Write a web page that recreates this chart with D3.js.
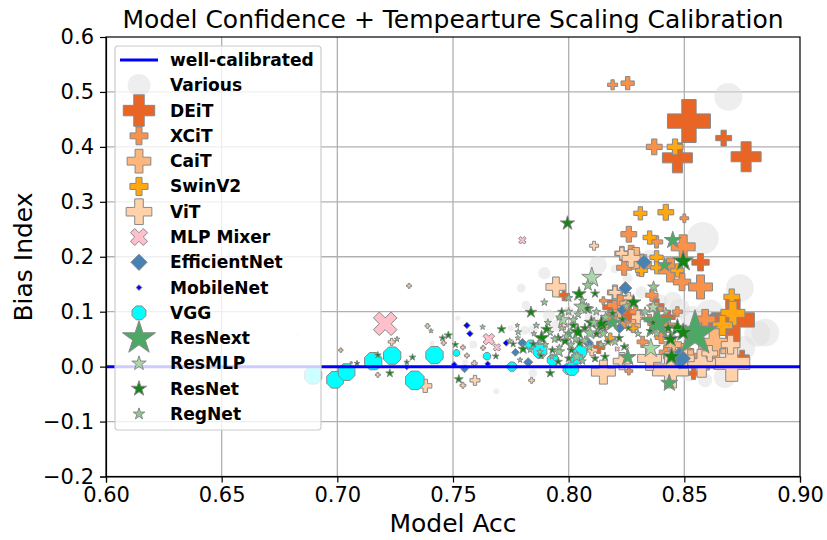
<!DOCTYPE html>
<meta charset="utf-8">
<style type="text/css">
	body { margin: 0; background: #fff; }
	text { font-family: "DejaVu Sans", sans-serif; fill: #000; }
	.grid line { stroke: #b0b0b0; stroke-width: 1.3; }
	.axis path, .axis line { stroke: #000; stroke-width: 1.2; }
	.axis text { font-size: 21px; }
	.legend text { font-size: 17.1px; font-weight: bold; }
</style>
<svg width="827" height="540"></svg>
<script src="https://d3js.org/d3.v7.min.js"></script>
<script type="text/javascript">
	// each point: [accuracy, bias index, model size]
	var various = [[.869,.491,31],[.858,.234,41],[.8127,.185,13],[.82,.178,3],[.8255,.161,4],[.8315,.135,6],[.845,.12,13],[.874,.143,31],[.885,.062,31],[.8815,.06,27],[.8755,.034,23],[.8675,-.019,19],[.859,-.025,8],[.861,.097,31],[.848,.106,16],[.7895,.17,6],[.7795,.143,3],[.7815,.112,3],[.7915,.093,6],[.752,.088,1],[.7687,-.045,1.4],[.7845,-.012,3],[.7588,.04,2.5],[.7552,.008,1.4],[.741,.043,1],[.683,.06,.6],[.676,-.002,.6],[.7845,.066,4],[.781,.066,3],[.775,.07,1.4],[.853,.09,20],[.857,.07,18],[.865,.02,25],[.852,-.01,14],[.84,.12,6],[.835,.2,8],[.828,.21,6],[.842,.02,10],[.8,.1,5],[.795,.075,6],[.81,.09,8],[.83,.09,5]];
	var deit = [[.852,.447,74],[.867,.416,10],[.8767,.382,36],[.847,.38,36],[.857,.19,12],[.871,.085,74],[.798,.13,5],[.818,.108,9],[.838,.11,9],[.875,.017,8],[.854,-.012,6],[.813,.035,6],[.863,.07,30],[.826,.095,9],[.843,.09,8]];
	var xcit = [[.819,.513,4],[.8255,.516,7],[.837,.4,10],[.85,.27,3],[.826,.241,10],[.838,.227,6],[.8495,.218,23],[.844,.176,23],[.831,.185,19],[.849,.154,12],[.857,.145,23],[.859,.086,16],[.82,.112,9],[.838,.105,7],[.853,.02,8],[.842,.026,7],[.84,.053,6],[.826,-.008,2.5],[.847,.1,4],[.815,.12,2.5],[.827,.205,12],[.824,.18,9],[.836,.13,6],[.85,.03,7],[.86,.005,6],[.822,.125,9],[.818,.09,7],[.829,.1,6],[.835,.085,5],[.843,.075,8],[.832,.045,5],[.824,.08,5]];
	var cait = [[.82,.135,9],[.829,.197,19],[.823,.206,8],[.863,.042,40],[.869,.028,9],[.828,.075,8],[.845,.04,12],[.822,.1,6],[.855,.065,10],[.815,.075,5],[.825,.115,7],[.85,.025,14]];
	var swin = [[.831,.279,7],[.842,.281,10],[.846,.4,10],[.835,.235,7],[.838,.199,7],[.8315,.175,6],[.838,.18,6],[.8705,.127,10],[.871,.097,23],[.8665,.075,16],[.818,.052,4],[.828,.07,3.2],[.847,.175,7]];
	var vit = [[.7945,.145,16],[.738,-.035,7],[.7595,-.025,4],[.815,-.01,23],[.811,.22,3.2],[.823,.206,6],[.827,.197,13],[.844,-.006,52],[.8705,.006,52],[.8575,.006,31],[.835,.015,23],[.823,.01,12],[.82,.135,6],[.731,.147,1],[.739,.074,1],[.7235,.045,2],[.7015,.03,.8],[.7175,-.015,1],[.7592,.006,1.4],[.7543,-.034,1.4],[.784,-.025,1.4],[.763,.034,1],[.756,.02,1],[.7543,.035,1],[.746,.043,1],[.81,.03,5],[.798,.075,3],[.83,.09,7],[.826,.125,5],[.87,.04,14],[.85,.015,16],[.861,.024,10]];
	var mixer = [[.7207,.078,25],[.78,.23,2.5],[.7655,.05,6],[.769,.035,2.5],[.8125,.06,2],[.821,.032,1],[.825,.037,1]];
	var efficient = [[.8325,.19,5],[.8245,.143,4],[.822,.07,2.5],[.823,.103,2.5],[.848,.015,11],[.8085,.043,2.5],[.755,-.004,1.4],[.7825,.008,2],[.777,.026,1.4],[.78,.043,2],[.805,.018,2.5]];
	var mobile = [[.756,.075,1],[.7573,.06,1],[.773,.043,1],[.7505,.004,.8],[.765,.005,.8],[.73,-.001,.6]];
	var vgg = [[.6895,-.016,14],[.699,-.024,13],[.704,-.01,13],[.7155,.01,14],[.7237,.02,14],[.7335,-.025,16],[.742,.021,14],[.7515,.025,2],[.7647,.019,2.6],[.7755,0,4],[.7835,.04,4],[.7876,.028,9],[.7932,.012,6],[.80,-.004,6],[.8015,-.004,8],[.805,.027,8],[.8035,.015,6]];
	var resnext = [[.8546,.06,92],[.8382,.08,49],[.8435,-.03,13],[.845,.23,13],[.8415,.185,9],[.8255,.017,13],[.819,.08,13],[.8085,.105,5],[.8,.06,5]];
	var resmlp = [[.81,.162,18],[.8355,.033,16],[.8365,.108,8],[.7975,.085,8],[.706,.007,.4]];
	var resnet = [[.7995,.261,9],[.8495,.192,19],[.8445,.018,15],[.847,.07,15],[.8495,.062,15],[.844,.05,12],[.8145,.074,9],[.7883,.052,10],[.7905,.068,6],[.7837,.099,6],[.771,.068,3.5],[.748,.057,3],[.7455,.052,2],[.751,.04,2],[.7325,.017,2],[.7227,-.012,3],[.7525,-.023,3.5],[.792,-.012,3.5],[.7175,.021,2],[.7085,.006,1.4],[.73,.008,1.4],[.7685,.019,2],[.8045,.132,9],[.8142,.079,12],[.8098,.08,9],[.804,.063,11],[.8077,.106,6],[.8114,.133,3.5],[.8157,.018,3.5],[.7803,.032,4.5],[.7985,.047,6],[.7955,.052,4],[.7847,.041,3],[.776,.041,2],[.7955,.009,3],[.8047,.043,4],[.8012,.03,3.5],[.8114,.015,3],[.819,.097,3.5],[.828,.117,10],[.8233,.086,3.5],[.8218,.052,3.5],[.824,.036,3],[.8258,.07,2],[.843,.07,6],[.8352,.065,3],[.8365,.08,3.5],[.797,.1,3],[.802,.075,4],[.807,.07,4],[.812,.06,4],[.817,.045,3],[.793,.03,3],[.788,.02,2.5],[.8,.015,3]];
	var regnet = [[.7895,.117,2.5],[.7628,.072,1.4],[.7782,.063,2],[.7745,.047,1.4],[.7958,.027,6],[.8035,.018,6],[.8083,.148,6],[.8056,.109,11],[.8092,.061,8],[.7927,.018,1.4],[.7833,.03,1.4],[.7876,.027,2],[.779,.012,1.4],[.8367,.145,6],[.7405,.065,1],[.7258,.05,1.4],[.7778,.075,1],[.778,.052,1.4],[.7875,.045,1.4],[.792,.062,2.5],[.797,.07,2.5],[.802,.085,4],[.807,.047,4],[.812,.1,3],[.815,.06,4],[.82,.045,3],[.825,.11,3],[.83,.06,2.5],[.833,.1,4],[.801,.04,3],[.796,.035,2],[.806,.01,2.5],[.811,.08,5],[.816,.09,5],[.79,.04,2],[.785,.06,1.4],[.8,.125,3],[.804,.095,3],[.838,.06,3],[.842,.1,3],[.794,.05,3],[.799,.055,3],[.803,.05,3],[.809,.035,3],[.814,.04,3],[.8,.1,3],[.796,.09,2.5],[.791,.08,2.5],[.786,.075,2],[.806,.12,3]];

	var names = ["Various", "DEiT", "XCiT", "CaiT", "SwinV2", "ViT", "MLP Mixer", "EfficientNet", "MobileNet", "VGG", "ResNext", "ResMLP", "ResNet", "RegNet"];
	var families = [various, deit, xcit, cait, swin, vit, mixer, efficient, mobile, vgg, resnext, resmlp, resnet, regnet];
	var colors = ["#dddddd", "#e96525", "#fa914a", "#fdb67c", "#ffa812", "#ffd2ab", "#ffc0cb", "#4682b4", "#0000ff", "#00ffff", "#4da866", "#a8d8a8", "#148514", "#8fc98f"];
	var xTicks = [.6, .65, .7, .75, .8, .85, .9];
	var yTicks = [-.2, -.1, 0, .1, .2, .3, .4, .5, .6];

	// symbol types, size is the square of the full width like matplotlib's s
	function poly(pts) {
		return { draw: function(c, size) {
			var k = Math.sqrt(size) / 2;
			pts.forEach(function(p, i) {
				if (i) c.lineTo(p[0] * k, p[1] * k); else c.moveTo(p[0] * k, p[1] * k);
			});
			c.closePath();
		}};
	}
	var plusPts = [[-1,-3],[1,-3],[1,-1],[3,-1],[3,1],[1,1],[1,3],[-1,3],[-1,1],[-3,1],[-3,-1],[-1,-1]].map(function(p) { return [p[0] / 3, p[1] / 3]; });
	var s = Math.SQRT1_2;
	var xPts = plusPts.map(function(p) { return [(p[0] - p[1]) * s, (p[0] + p[1]) * s]; });
	var starPts = d3.range(10).map(function(i) {
		var r = i % 2 ? .382 : 1, a = i * Math.PI / 5;
		return [r * Math.sin(a), -r * Math.cos(a)];
	});
	var octPts = d3.range(8).map(function(i) {
		var a = Math.PI / 8 + i * Math.PI / 4;
		return [Math.cos(a), Math.sin(a)];
	});
	var diamondPts = [[0,-1.3],[1.3,0],[0,1.3],[-1.3,0]];
	var circle = { draw: function(c, size) {
		var r = Math.sqrt(size) / 2;
		c.moveTo(r, 0);
		c.arc(0, 0, r, 0, 2 * Math.PI);
	}};
	var plus = poly(plusPts), cross = poly(xPts), star = poly(starPts), oct = poly(octPts), diamond = poly(diamondPts);
	var shapes = [circle, plus, plus, plus, plus, plus, cross, diamond, diamond, oct, star, star, star, star];

	var svg = d3.select("svg"),
		margin = {top: 37, right: 27, bottom: 63.5, left: 106},
		width = +svg.attr("width") - margin.left - margin.right,
		height = +svg.attr("height") - margin.top - margin.bottom;

	var x = d3.scaleLinear().domain([.6, .9]).range([margin.left, margin.left + width]);
	var y = d3.scaleLinear().domain([-.2, .6]).range([margin.top + height, margin.top]);
	var area = d3.scaleLinear().domain([0, 100]).range([0, 2500]);

	svg.append("clipPath").attr("id", "plot").append("rect")
		.attr("x", margin.left).attr("y", margin.top).attr("width", width).attr("height", height);

	// grid
	svg.append("g").attr("class", "grid").selectAll("line").data(xTicks.slice(1, -1)).enter().append("line")
		.attr("x1", x).attr("x2", x).attr("y1", margin.top).attr("y2", margin.top + height);
	svg.append("g").attr("class", "grid").selectAll("line").data(yTicks.slice(1, -1)).enter().append("line")
		.attr("y1", y).attr("y2", y).attr("x1", margin.left).attr("x2", margin.left + width);

	// markers
	var marks = svg.append("g").attr("clip-path", "url(#plot)");
	families.forEach(function(f, i) {
		var sym = d3.symbol().type(shapes[i]).size(function(d) { return area(d[2]); });
		marks.append("g").selectAll("path").data(f).enter().append("path")
			.attr("d", sym)
			.attr("transform", function(d) { return "translate(" + x(d[0]) + "," + y(d[1]) + ")"; })
			.attr("fill", colors[i])
			.attr("fill-opacity", i == 0 ? .5 : 1)
			.attr("stroke", i == 0 ? "none" : "#888")
			.attr("stroke-width", 1);
	});

	marks.append("line").attr("x1", x(.6)).attr("x2", x(.9)).attr("y1", y(0)).attr("y2", y(0))
		.attr("stroke", "#0000ff").attr("stroke-width", 3);

	// axes
	svg.append("g").attr("class", "axis").attr("transform", "translate(0," + (margin.top + height) + ")")
		.call(d3.axisBottom(x).tickValues(xTicks).tickFormat(d3.format(".2f")).tickSize(6).tickPadding(5));
	svg.append("g").attr("class", "axis").attr("transform", "translate(" + margin.left + ",0)")
		.call(d3.axisLeft(y).tickValues(yTicks).tickFormat(d3.format(".1f")).tickSize(6).tickPadding(6));
	svg.append("rect").attr("x", margin.left).attr("y", margin.top).attr("width", width).attr("height", height)
		.attr("fill", "none").attr("stroke", "#000").attr("stroke-width", 1.2);

	svg.append("text").attr("x", 453).attr("y", 28).attr("text-anchor", "middle").style("font-size", "25px")
		.text("Model Confidence + Tempearture Scaling Calibration");
	svg.append("text").attr("x", 453).attr("y", 532).attr("text-anchor", "middle").style("font-size", "25px")
		.text("Model Acc");
	svg.append("text").attr("transform", "translate(32,257)rotate(-90)").attr("text-anchor", "middle").style("font-size", "25px")
		.text("Bias Index");

	// legend
	var legend = svg.append("g").attr("class", "legend");
	legend.append("rect").attr("x", 115).attr("y", 46).attr("width", 206).attr("height", 384).attr("rx", 3)
		.attr("fill", "#fff").attr("fill-opacity", .8).attr("stroke", "#ccc").attr("stroke-width", 1.2);
	var rowY = d3.scaleLinear().domain([0, 14]).range([60, 414]);
	legend.append("line").attr("x1", 120).attr("x2", 158).attr("y1", rowY(0)).attr("y2", rowY(0))
		.attr("stroke", "#0000ff").attr("stroke-width", 3);
	legend.append("text").attr("x", 170).attr("y", rowY(0)).attr("dy", ".35em").text("well-calibrated");
	families.forEach(function(f, i) {
		// legend marker is midway between the largest and smallest of the family
		var e = d3.extent(f, function(d) { return d[2]; });
		legend.append("path")
			.attr("d", d3.symbol().type(shapes[i]).size(area((e[0] + e[1]) / 2))())
			.attr("transform", "translate(139," + rowY(i + 1) + ")")
			.attr("fill", colors[i])
			.attr("fill-opacity", i == 0 ? .5 : 1)
			.attr("stroke", i == 0 ? "none" : "#888");
		legend.append("text").attr("x", 170).attr("y", rowY(i + 1)).attr("dy", ".35em").text(names[i]);
	});
</script>
